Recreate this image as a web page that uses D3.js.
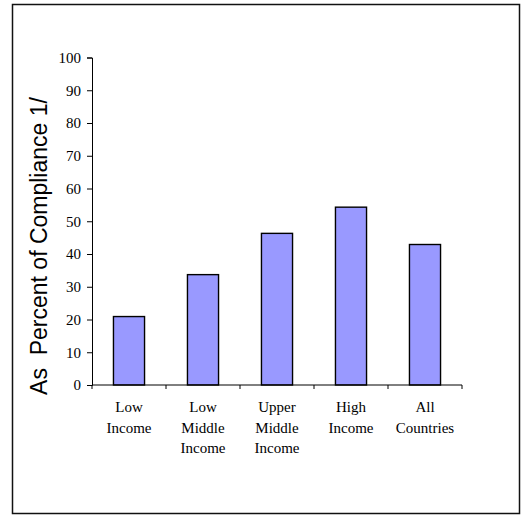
<!DOCTYPE html>
<html>
<head>
<meta charset="utf-8">
<script src="https://cdn.jsdelivr.net/npm/d3@7"></script>
<style>
  html, body { margin: 0; padding: 0; background: #fff; }
  svg { display: block; }
</style>
</head>
<body>
<svg id="chart" width="521" height="515"></svg>
<script>
// Income groups (multi-line labels) and their values
const categories = [
  ["Low", "Income"],
  ["Low", "Middle", "Income"],
  ["Upper", "Middle", "Income"],
  ["High", "Income"],
  ["All", "Countries"]
];
const values = [20.9, 33.7, 46.3, 54.3, 42.9];
const yTicks = [0, 10, 20, 30, 40, 50, 60, 70, 80, 90, 100];
const yTitle = "As  Percent of Compliance 1/";

const svg = d3.select("#chart");

// Outer frame
svg.append("rect")
  .attr("x", 12.5).attr("y", 4.5)
  .attr("width", 507).attr("height", 509)
  .attr("fill", "none").attr("stroke", "#111").attr("stroke-width", 1.5);

const plot = { left: 92, right: 462, top: 57.5, bottom: 385 };

const x = d3.scaleBand()
  .domain(d3.range(categories.length))
  .range([plot.left, plot.right])
  .padding(0);

const y = d3.scaleLinear()
  .domain([0, 100])
  .range([plot.bottom, plot.top]);

// Y axis
const yAxis = d3.axisLeft(y)
  .tickValues(yTicks)
  .tickSize(5)
  .tickPadding(6)
  .tickFormat(d3.format("d"));

const gy = svg.append("g")
  .attr("transform", `translate(${plot.left},0)`)
  .call(yAxis);
gy.select(".domain").attr("stroke", "#000").attr("stroke-width", 1);
gy.selectAll(".tick line").attr("stroke", "#000");
gy.selectAll(".tick text")
  .attr("font-family", "'Liberation Serif', 'Times New Roman', serif")
  .attr("font-size", 15)
  .attr("fill", "#000");

// Bars, centred in each category slot
const barFrac = 0.42;
svg.append("g")
  .selectAll("rect")
  .data(values)
  .join("rect")
  .attr("x", (d, i) => x(i) + x.bandwidth() * (1 - barFrac) / 2)
  .attr("y", d => y(d))
  .attr("width", x.bandwidth() * barFrac)
  .attr("height", d => y(0) - y(d))
  .attr("fill", "#9999FF")
  .attr("stroke", "#000")
  .attr("stroke-width", 1.4);

// X axis baseline and boundary ticks
const gx = svg.append("g");
gx.append("line")
  .attr("x1", plot.left).attr("x2", plot.right)
  .attr("y1", y(0)).attr("y2", y(0))
  .attr("stroke", "#000").attr("stroke-width", 1);
const bounds = d3.range(categories.length + 1).map(i =>
  i < categories.length ? x(i) : x(categories.length - 1) + x.bandwidth());
gx.selectAll("line.tk")
  .data(bounds)
  .join("line")
  .attr("class", "tk")
  .attr("x1", d => d).attr("x2", d => d)
  .attr("y1", y(0)).attr("y2", y(0) + 4)
  .attr("stroke", "#000");

// Category labels
const lab = svg.append("g")
  .attr("font-family", "'Liberation Serif', 'Times New Roman', serif")
  .attr("font-size", 15)
  .attr("fill", "#000")
  .attr("text-anchor", "middle");
categories.forEach((lines, i) => {
  const t = lab.append("text")
    .attr("x", x(i) + x.bandwidth() / 2)
    .attr("y", 412);
  lines.forEach((s, k) => {
    t.append("tspan")
      .attr("x", x(i) + x.bandwidth() / 2)
      .attr("dy", k === 0 ? 0 : 20.5)
      .text(s);
  });
});

// Y axis title
svg.append("text")
  .attr("transform", "translate(47,246) rotate(-90)")
  .attr("text-anchor", "middle")
  .attr("font-family", "'Liberation Sans', Arial, sans-serif")
  .attr("font-size", 23)
  .attr("fill", "#000")
  .style("white-space", "pre")
  .text(yTitle);
</script>
</body>
</html>
